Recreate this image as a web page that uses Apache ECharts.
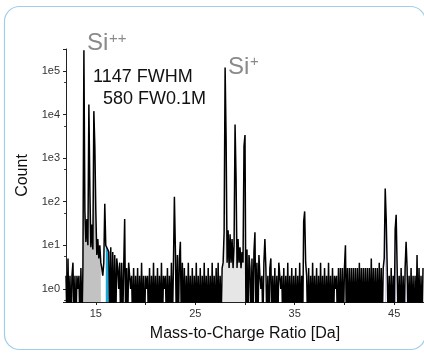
<!DOCTYPE html>
<html>
<head>
<meta charset="utf-8">
<script src="https://cdn.jsdelivr.net/npm/echarts@6/dist/echarts.min.js"></script>
<style>
  html, body { margin: 0; background: #fff; }
  #chart { width: 424px; height: 355px; }
</style>
</head>
<body>
<div id="chart"></div>
<script>
// histogram bins: 0.1 Da wide, first bin at 12.0 Da
const mzStart = 12.0
const binWidth = 0.1

// counts per bin, one row per Da (12.0 .. 47.9)
const counts = [
  2, 0, 5, 0, 2, 0, 2, 4, 0, 2,            // 12
  0, 2, 1, 2, 0, 3, 0, 3, 300000, 60,      // 13
  12, 40, 10, 17000, 200, 9, 30, 8, 12000, 1900, // 14
  60, 6, 14, 5, 10, 4, 3, 2, 4, 90,        // 15
  10, 9, 8, 7, 0, 9, 0, 7, 0, 6,           // 16
  0, 5, 3, 1, 4, 0, 4, 0, 3, 40,           // 17
  0, 3, 0, 4, 2, 1, 2, 0, 3, 0,            // 18
  2, 0, 3, 0, 2, 0, 4, 0, 2, 0,            // 19
  2, 1, 2, 0, 3, 0, 2, 0, 4, 0,            // 20
  2, 0, 3, 0, 2, 0, 4, 0, 2, 1,            // 21
  2, 0, 3, 0, 2, 0, 4, 0, 3, 130,          // 22
  8, 0, 6, 0, 5, 12, 0, 4, 0, 3,           // 23
  0, 2, 0, 4, 0, 2, 0, 3, 0, 2,            // 24
  0, 4, 0, 2, 0, 3, 0, 2, 0, 4,            // 25
  0, 2, 0, 3, 0, 2, 0, 4, 0, 2,            // 26
  0, 3, 0, 4, 0, 2, 0, 3, 4, 20,           // 27
  120000, 2900, 4, 22, 3, 18, 4, 14, 3, 10, // 28
  5900, 370, 3, 14, 4, 9, 3, 7, 4, 1900,   // 29
  3400, 0, 8, 0, 6, 3, 0, 5, 0, 7,         // 30
  20, 0, 4, 0, 6, 2, 1, 2, 0, 4,           // 31
  14, 3, 0, 2, 0, 3, 5, 0, 2, 0,           // 32
  3, 0, 2, 0, 4, 2, 1, 2, 0, 3,            // 33
  0, 2, 0, 4, 0, 2, 0, 3, 0, 2,            // 34
  0, 3, 0, 2, 0, 4, 0, 2, 0, 35,           // 35
  60, 4, 2, 0, 3, 0, 2, 0, 4, 0,           // 36
  2, 0, 3, 0, 2, 0, 4, 0, 2, 0,            // 37
  3, 0, 2, 0, 4, 0, 2, 0, 3, 0,            // 38
  2, 1, 2, 0, 3, 0, 3, 0, 3, 0,            // 39
  3, 10, 0, 3, 0, 3, 0, 3, 0, 3,           // 40
  0, 3, 0, 3, 0, 4, 0, 3, 0, 3,            // 41
  0, 3, 0, 3, 0, 3, 0, 5, 0, 3,            // 42
  0, 3, 0, 3, 0, 4, 0, 3, 0, 3,            // 43
  5, 200, 40, 3, 0, 2, 0, 3, 0, 2,         // 44
  0, 23, 50, 3, 0, 2, 0, 3, 0, 2,          // 45
  0, 3, 12, 3, 0, 2, 0, 3, 0, 2,           // 46
  0, 2, 0, 6, 0, 3, 0, 2, 0, 3,            // 47
]

// ranged ions [from, to] in Da
const ionRanges = [[13.7, 15.5], [16.0, 16.3], [27.8, 30.0], [44.1, 44.2], [45.1, 45.2], [46.1, 46.2]]
const rangeColors = ['#c2c2c2', '#1ba6dc', '#e6e6e6', '#c9c6ea', '#c9c6ea', '#c9c6ea']

const xTickValues = [15, 20, 25, 30, 35, 40, 45]
const xLabelValues = [15, 25, 35, 45]
const yLabelValues = [1, 10, 100, 1000, 10000, 100000]

const font = 'Liberation Sans, Arial, sans-serif'
const zeroFloor = 0.13 // empty bins drop below the axis (clipped)

const binX = i => +(mzStart + i * binWidth).toFixed(1)
const toIndex = mz => Math.round((mz - mzStart) / binWidth)

const fillSeries = ionRanges.map((r, k) => {
  const data = []
  for (let i = toIndex(r[0]); i <= toIndex(r[1]); i++) data.push([binX(i), counts[i]])
  return {
    type: 'line',
    data,
    symbol: 'none',
    silent: true,
    z: 1,
    lineStyle: { opacity: 0 },
    areaStyle: { color: rangeColors[k], opacity: 1, origin: 'start' },
  }
})

const chart = echarts.init(document.getElementById('chart'), null, { renderer: 'canvas' })

chart.setOption({
  animation: false,
  backgroundColor: '#fff',
  textStyle: { fontFamily: font },
  grid: { left: 66, right: -4, top: 49, bottom: 53 },
  xAxis: {
    type: 'value',
    min: 12,
    max: 48,
    splitLine: { show: false },
    axisLine: { lineStyle: { color: '#222', width: 1 } },
    axisTick: { customValues: xTickValues, length: 3, lineStyle: { color: '#222' } },
    axisLabel: { customValues: xLabelValues, fontSize: 11, color: '#333', margin: 6, fontFamily: font },
    name: 'Mass-to-Charge Ratio [Da]',
    nameLocation: 'middle',
    nameGap: 24,
    nameTextStyle: { fontSize: 16, color: '#111', fontFamily: font },
  },
  yAxis: {
    type: 'log',
    logBase: 10,
    min: 0.5,
    max: 320000,
    splitLine: { show: false },
    axisLine: { show: true, lineStyle: { color: '#222', width: 1 } },
    axisTick: { show: true, length: 3, lineStyle: { color: '#222' } },
    minorTick: { show: true, splitNumber: 2, length: 2, lineStyle: { color: '#444' } },
    axisLabel: {
      customValues: yLabelValues,
      fontSize: 11,
      color: '#333',
      margin: 6,
      fontFamily: font,
      formatter: v => '1e' + Math.round(Math.log10(v)),
    },
    name: 'Count',
    nameLocation: 'middle',
    nameGap: 32,
    nameTextStyle: { fontSize: 16, color: '#111', fontFamily: font },
  },
  graphic: [
    {
      type: 'rect',
      shape: { x: 4.5, y: 6.5, width: 421, height: 343, r: 15 },
      style: { fill: 'none', stroke: '#9fcfe6', lineWidth: 1.2 },
      silent: true,
    },
    { type: 'text', x: 87, y: 43, style: { text: 'Si', font: '24px ' + font, fill: '#8a8a8a', verticalAlign: 'middle' } },
    { type: 'text', x: 109, y: 39, style: { text: '++', font: '15px ' + font, fill: '#8a8a8a', verticalAlign: 'middle' } },
    { type: 'text', x: 228, y: 67, style: { text: 'Si', font: '24px ' + font, fill: '#8a8a8a', verticalAlign: 'middle' } },
    { type: 'text', x: 250, y: 62, style: { text: '+', font: '15px ' + font, fill: '#8a8a8a', verticalAlign: 'middle' } },
    { type: 'text', x: 93, y: 77, style: { text: '1147 FWHM', font: '18px ' + font, fill: '#111', verticalAlign: 'middle' } },
    { type: 'text', x: 103, y: 99, style: { text: '580 FW0.1M', font: '18px ' + font, fill: '#111', verticalAlign: 'middle' } },
  ],
  series: [
    ...fillSeries,
    {
      type: 'line',
      data: counts.map((c, i) => [binX(i), c > 0 ? c : zeroFloor]),
      symbol: 'none',
      clip: true,
      z: 3,
      lineStyle: { color: '#000', width: 1.5 },
    },
  ],
})
</script>
</body>
</html>
